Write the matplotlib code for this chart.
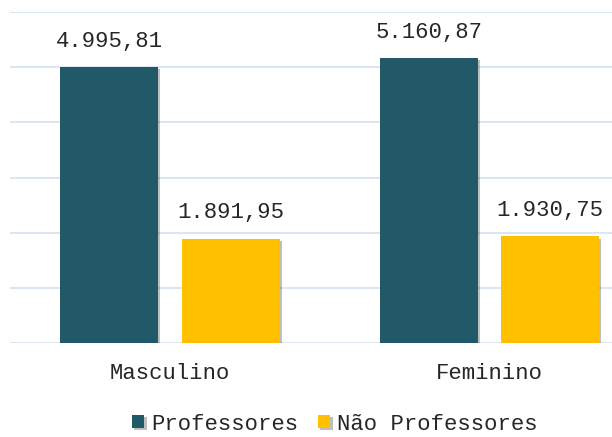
import matplotlib
matplotlib.use("Agg")
import matplotlib.pyplot as plt
import matplotlib.patheffects as pe
import numpy as np

categories = ["Masculino", "Feminino"]
series_names = ["Professores", "Não Professores"]
professores = [4995.81, 5160.87]
nao_professores = [1891.95, 1930.75]
colors = ["#225968", "#FFC000"]

def fmt(v):
    s = f"{v:,.2f}"
    return s.replace(",", "X").replace(".", ",").replace("X", ".")

plt.rcParams['font.family'] = ['Liberation Mono', 'DejaVu Sans']

fig = plt.figure(figsize=(6.12, 4.37), dpi=100)
ax = fig.add_axes([10/612, 1 - 343/437, 1 - 10/612, (343 - 12)/437])

x = np.arange(len(categories))
w = 0.306
off = 0.19
shadow = [pe.SimplePatchShadow(offset=(1.5, -1.5), alpha=0.25, shadow_rgbFace="#000000"), pe.Normal()]
for vals, c, d, name in [(professores, colors[0], -off, series_names[0]),
                         (nao_professores, colors[1], off, series_names[1])]:
    bars = ax.bar(x + d, vals, w, color=c, label=name, zorder=3)
    for b, v in zip(bars, vals):
        b.set_path_effects(shadow)
        ax.annotate(fmt(v), (b.get_x() + b.get_width()/2, v), xytext=(0, 11),
                    textcoords="offset points", ha="center", va="bottom",
                    fontsize=16, color="#262626")

ax.set_ylim(0, 6000)
ax.set_xlim(-0.5, 1.383)
ax.set_yticks(np.arange(0, 6001, 1000))
ax.yaxis.grid(True, color="#D6E2F0", linewidth=1.2, zorder=0)
ax.set_axisbelow(True)
ax.tick_params(axis="y", left=False, labelleft=False)
ax.tick_params(axis="x", bottom=False, labelsize=16, labelcolor="#262626", pad=11)
ax.set_xticks(x)
ax.set_xticklabels(categories)
for s in ax.spines.values():
    s.set_visible(False)

leg = fig.legend(loc="center", bbox_to_anchor=(335/612, 1 - 424/437), ncol=2,
                 frameon=False, fontsize=16, handlelength=0.55, handleheight=0.55,
                 handletextpad=0.3, columnspacing=0.9, labelcolor="#262626")

fig.savefig("out.png", dpi=100)
